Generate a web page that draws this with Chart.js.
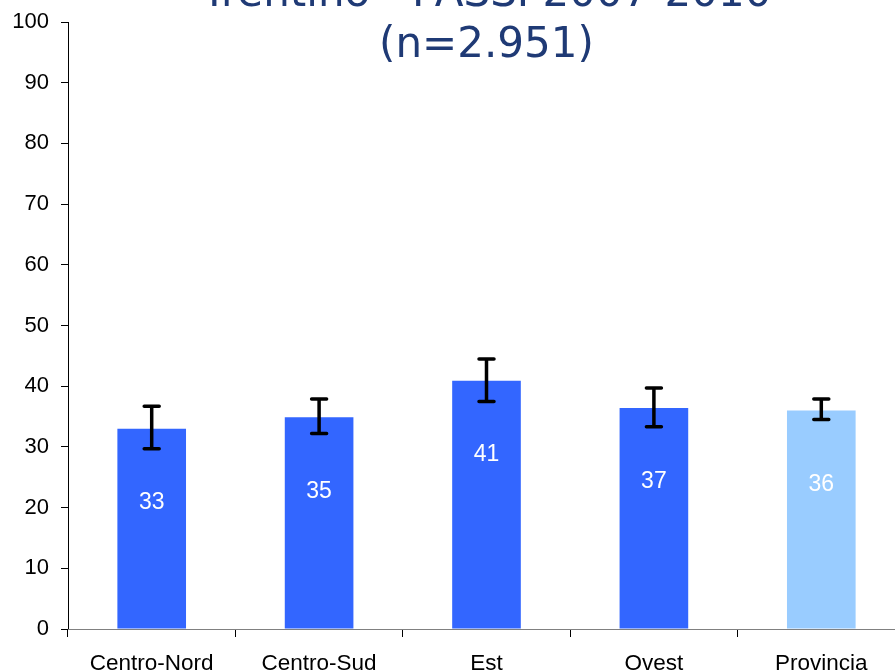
<!DOCTYPE html>
<html><head><meta charset="utf-8">
<script src="https://cdn.jsdelivr.net/npm/chart.js@4.4.0/dist/chart.umd.min.js"></script>
<style>
html,body{margin:0;padding:0;overflow:hidden;background:#fff;width:895px;height:672px}
#wrap{position:absolute;left:0;top:0;width:910px;height:672px}
</style>
</head><body><div id="wrap"><canvas id="c"></canvas></div>
<script>
const categories = ['Centro-Nord', 'Centro-Sud', 'Est', 'Ovest', 'Provincia'];
const values = [33.0, 34.9, 40.9, 36.4, 36.0];
const valueLabels = ['33', '35', '41', '37', '36'];
const errLow = [29.7, 32.2, 37.5, 33.3, 34.5];
const errHigh = [36.7, 37.9, 44.5, 39.7, 37.9];
const yTickValues = [0, 10, 20, 30, 40, 50, 60, 70, 80, 90, 100];
const titleLines = ['Trentino - PASSI 2007-2010', '(n=2.951)'];

const DARK = '#3366FF', LIGHT = '#99CCFF';
const FONT = "'Liberation Sans', Arial, sans-serif";

const errorBarPlugin = {
  id: 'errorBars',
  afterDatasetsDraw(chart) {
    const ctx = chart.ctx, meta = chart.getDatasetMeta(0), y = chart.scales.y;
    ctx.save();
    ctx.strokeStyle = '#000';
    ctx.lineWidth = 3.5;
    ctx.lineCap = 'round';
    meta.data.forEach((bar, i) => {
      const x = bar.x, yl = y.getPixelForValue(errLow[i]), yh = y.getPixelForValue(errHigh[i]);
      ctx.beginPath();
      ctx.moveTo(x, yl); ctx.lineTo(x, yh);
      ctx.moveTo(x - 7.5, yl); ctx.lineTo(x + 7.5, yl);
      ctx.moveTo(x - 7.5, yh); ctx.lineTo(x + 7.5, yh);
      ctx.stroke();
    });
    ctx.restore();
  }
};

const valueLabelPlugin = {
  id: 'valueLabels',
  afterDatasetsDraw(chart) {
    const ctx = chart.ctx, meta = chart.getDatasetMeta(0);
    ctx.save();
    ctx.fillStyle = '#fff';
    ctx.font = '23px ' + FONT;
    ctx.textAlign = 'center';
    ctx.textBaseline = 'middle';
    meta.data.forEach((bar, i) => {
      ctx.fillText(valueLabels[i], bar.x, bar.y + 74);
    });
    ctx.restore();
  }
};

const titlePlugin = {
  id: 'cutTitle',
  afterDraw(chart) {
    const ctx = chart.ctx, a = chart.chartArea;
    const cx = (a.left + a.right) / 2;
    ctx.save();
    ctx.fillStyle = '#1F3A75';
    ctx.font = "42px 'DejaVu Sans', Verdana, sans-serif";
    ctx.textAlign = 'center';
    ctx.textBaseline = 'alphabetic';
    ctx.fillText(titleLines[0], cx, 6);
    ctx.fillText(titleLines[1], cx, 57);
    ctx.restore();
  }
};

new Chart(document.getElementById('c'), {
  type: 'bar',
  data: {
    labels: categories,
    datasets: [{
      data: values,
      backgroundColor: (c) => c.dataIndex === categories.length - 1 ? LIGHT : DARK,
      borderWidth: 0,
      barPercentage: 0.41,
      categoryPercentage: 1.0
    }]
  },
  options: {
    responsive: true,
    maintainAspectRatio: false,
    animation: false,
    layout: { padding: { top: 22, right: 5, left: 0, bottom: 0 } },
    plugins: { legend: { display: false }, title: { display: false }, tooltip: { enabled: false } },
    scales: {
      y: {
        min: 0, max: 100,
        afterBuildTicks: (s) => { s.ticks = yTickValues.map(v => ({ value: v })); },
        afterFit: (s) => { s.width = 68; s.paddingTop = 0; s.paddingBottom = 0; },
        ticks: { color: '#000', font: { family: FONT, size: 22 }, padding: 12 },
        grid: { drawOnChartArea: false, drawTicks: true, tickLength: 7, color: '#000' },
        border: { color: '#000', width: 1 }
      },
      x: {
        afterFit: (s) => { s.height = 43; s.paddingLeft = 0; s.paddingRight = 0; },
        ticks: { color: '#000', font: { family: FONT, size: 22.5 }, padding: 13 },
        grid: { offset: true, drawOnChartArea: false, drawTicks: true, tickLength: 8, color: '#000' },
        border: { color: '#808080', width: 1 }
      }
    }
  },
  plugins: [errorBarPlugin, valueLabelPlugin, titlePlugin]
});
</script>
</body></html>
